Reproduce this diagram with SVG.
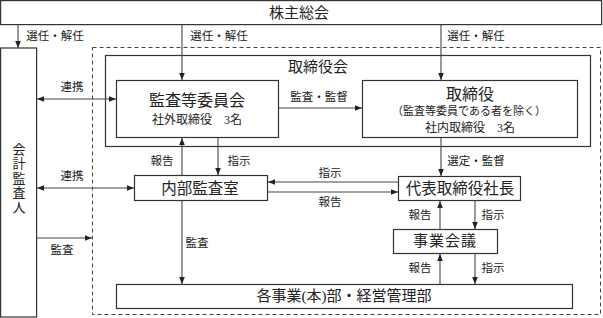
<svg xmlns="http://www.w3.org/2000/svg" width="603" height="318" viewBox="0 0 603 318">
<style>
text{font-family:"Liberation Serif","Noto Sans CJK JP",serif;fill:#222;text-anchor:middle;dominant-baseline:central}
.b{fill:#fff;stroke:#333;stroke-width:1.2}
.t{font-size:15px}
.v{font-size:13px}
.s{font-size:11.5px}
.m{font-size:12px}
.c line,.c path{stroke:#444;stroke-width:1.1;fill:none;marker-end:url(#a)}
.c .d{marker-start:url(#a)}
</style>
<defs>
<marker id="a" viewBox="0 0 10 10" refX="10" refY="5" markerWidth="7" markerHeight="7" markerUnits="userSpaceOnUse" orient="auto-start-reverse"><path d="M0,1L10,5L0,9z" fill="#222"/></marker>
</defs>
<rect x="0" y="0" width="603" height="318" fill="#fff"/>
<g id="board-area"><rect x="92.5" y="47.5" width="508" height="267" fill="none" stroke="#444" stroke-width="1" stroke-dasharray="4,3"/></g>
<g id="shareholders"><rect class="b" x="0.6" y="0.6" width="601" height="24"/><text class="t" x="299" y="13">株主総会</text></g>
<g id="auditor"><rect class="b" x="0.6" y="48" width="36" height="269"/>
<text class="v" x="19" y="149">会</text><text class="v" x="19" y="163.5">計</text><text class="v" x="19" y="178">監</text><text class="v" x="19" y="192.5">査</text><text class="v" x="19" y="207">人</text></g>
<g id="board"><rect class="b" x="105.5" y="55.5" width="485" height="91"/><text class="t" x="318" y="67">取締役会</text></g>
<g id="audit-committee"><rect class="b" x="116.5" y="80.5" width="162" height="57"/><text class="t" x="197" y="100" style="font-size:16px">監査等委員会</text><text class="m" x="197" y="120">社外取締役　3名</text></g>
<g id="directors"><rect class="b" x="362.5" y="80.5" width="215" height="57"/><text class="t" x="470" y="94" style="font-size:16px">取締役</text><text class="m" x="469" y="111" style="font-size:11px">（監査等委員である者を除く）</text><text class="m" x="470" y="128">社内取締役　3名</text></g>
<g id="internal-audit"><rect class="b" x="134.5" y="175.5" width="133" height="25"/><text class="t" x="200" y="188" style="font-size:15.5px">内部監査室</text></g>
<g id="president"><rect class="b" x="398.5" y="176.5" width="122" height="24"/><text class="t" x="460" y="188" style="font-size:15.5px">代表取締役社長</text></g>
<g id="business-meeting"><rect class="b" x="393.5" y="229.5" width="104" height="24"/><text class="t" x="445" y="241" style="letter-spacing:1px">事業会議</text></g>
<g id="divisions"><rect class="b" x="116.5" y="284.5" width="456" height="24"/><text class="t" x="344" y="296">各事業(本)部・経営管理部</text></g>
<g id="connectors" class="c">
<line x1="18" y1="25" x2="18" y2="48"/>
<line x1="182" y1="25" x2="182" y2="80"/>
<line x1="441" y1="25" x2="441" y2="80"/>
<line x1="278" y1="108" x2="362" y2="108"/>
<line class="d" x1="37" y1="99" x2="116" y2="99"/>
<line x1="182" y1="175" x2="182" y2="138"/>
<line x1="218" y1="138" x2="218" y2="175"/>
<line class="d" x1="37" y1="188" x2="134" y2="188"/>
<line x1="37" y1="238" x2="92" y2="238"/>
<line x1="182" y1="201" x2="182" y2="284"/>
<line x1="441" y1="138" x2="441" y2="176"/>
<line x1="398" y1="182" x2="268" y2="182"/>
<line x1="268" y1="192" x2="398" y2="192"/>
<line x1="440" y1="229" x2="440" y2="201"/>
<line x1="475" y1="201" x2="475" y2="229"/>
<line x1="440" y1="284" x2="440" y2="254"/>
<line x1="475" y1="254" x2="475" y2="284"/>
</g>
<g id="labels">
<text class="s" x="55" y="36">選任・解任</text>
<text class="s" x="219" y="36">選任・解任</text>
<text class="s" x="476" y="36">選任・解任</text>
<text class="s" x="72" y="87">連携</text>
<text class="s" x="319" y="97">監査・監督</text>
<text class="s" x="162" y="161">報告</text>
<text class="s" x="239" y="161">指示</text>
<text class="s" x="72" y="176">連携</text>
<text class="s" x="62" y="250">監査</text>
<text class="s" x="197" y="243">監査</text>
<text class="s" x="476" y="161">選定・監督</text>
<text class="s" x="330" y="173">指示</text>
<text class="s" x="330" y="202">報告</text>
<text class="s" x="420" y="215">報告</text>
<text class="s" x="493" y="215">指示</text>
<text class="s" x="420" y="268">報告</text>
<text class="s" x="493" y="268">指示</text>
</g>
</svg>
